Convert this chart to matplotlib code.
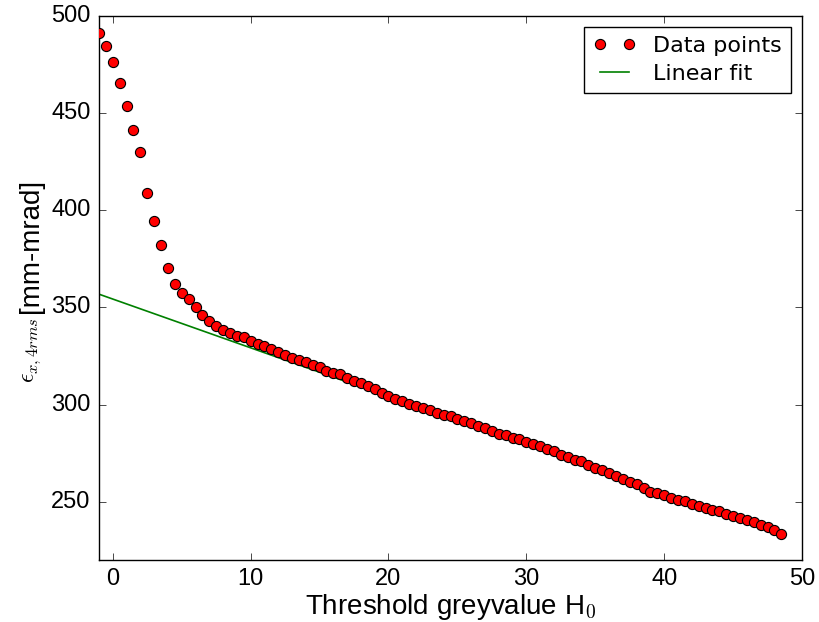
import matplotlib
matplotlib.use('Agg')
import matplotlib.pyplot as plt

threshold = [-1.0, -0.5, 0.0, 0.5, 1.0, 1.5, 2.0, 2.5, 3.0, 3.5,
             4.0, 4.5, 5.0, 5.5, 6.0, 6.5, 7.0, 7.5, 8.0, 8.5,
             9.0, 9.5, 10.0, 10.5, 11.0, 11.5, 12.0, 12.5, 13.0, 13.5,
             14.0, 14.5, 15.0, 15.5, 16.0, 16.5, 17.0, 17.5, 18.0, 18.5,
             19.0, 19.5, 20.0, 20.5, 21.0, 21.5, 22.0, 22.5, 23.0, 23.5,
             24.0, 24.5, 25.0, 25.5, 26.0, 26.5, 27.0, 27.5, 28.0, 28.5,
             29.0, 29.5, 30.0, 30.5, 31.0, 31.5, 32.0, 32.5, 33.0, 33.5,
             34.0, 34.5, 35.0, 35.5, 36.0, 36.5, 37.0, 37.5, 38.0, 38.5,
             39.0, 39.5, 40.0, 40.5, 41.0, 41.5, 42.0, 42.5, 43.0, 43.5,
             44.0, 44.5, 45.0, 45.5, 46.0, 46.5, 47.0, 47.5, 48.0, 48.5]

emittance = [491.4, 484.7, 476.3, 465.4, 453.7, 441.2, 430.0, 409.0, 394.4, 382.0,
             370.5, 362.1, 357.3, 354.3, 350.1, 346.2, 342.8, 340.5, 338.5, 336.8,
             335.4, 334.6, 332.8, 331.1, 329.9, 328.6, 327.2, 325.5, 324.1, 323.0,
             321.9, 320.6, 319.3, 317.5, 316.5, 315.5, 313.8, 312.2, 311.1, 309.3,
             307.8, 306.2, 304.2, 302.8, 301.6, 300.3, 299.4, 298.4, 297.0, 295.7,
             294.6, 293.9, 292.8, 291.7, 290.5, 289.1, 287.9, 286.2, 285.1, 284.1,
             282.9, 282.3, 280.9, 279.7, 278.8, 277.1, 276.1, 274.0, 272.8, 271.6,
             270.7, 269.0, 267.5, 266.5, 264.8, 263.2, 261.8, 259.9, 258.9, 257.2,
             255.1, 254.3, 253.2, 252.1, 251.0, 250.2, 249.0, 248.0, 246.6, 245.8,
             245.0, 243.8, 242.4, 241.4, 240.6, 239.8, 238.0, 236.9, 235.6, 233.2]

fit_intercept = 354.3
fit_slope = -2.51
fit_range = [-1.0, 48.5]

xticks = [0, 10, 20, 30, 40, 50]
yticks = [250, 300, 350, 400, 450, 500]

plt.style.use('classic')
plt.rcParams['font.family'] = ['Liberation Sans', 'DejaVu Sans']
plt.rcParams['mathtext.fontset'] = 'cm'

W, H = 819, 622
fig = plt.figure(figsize=(W / 100, H / 100), dpi=100, facecolor='white')
ax = fig.add_axes([0.1209, 0.0997, 0.8584, 0.8746])
ax.set_facecolor('white')

fit_y = [fit_intercept + fit_slope * x for x in fit_range]
ax.plot(threshold, emittance, 'o', color='red', markeredgecolor='black',
        markeredgewidth=0.8, markersize=7.3, label='Data points', zorder=3)
ax.plot(fit_range, fit_y, '-', color='green', linewidth=1.2, label='Linear fit', zorder=2)

ax.set_xlim(-1, 50)
ax.set_ylim(220, 500)
ax.set_xticks(xticks)
ax.set_yticks(yticks)
ax.tick_params(labelsize=17, direction='in', length=5, top=True, right=True, pad=6)
ax.set_xlabel('Threshold greyvalue H$_0$', fontsize=20, labelpad=1)

# y-axis label: math symbol part slightly smaller than the unit text, as in the reference
fig.text(33.5 / W, 1 - 383 / H, r'$\epsilon_{x,4rms}$', fontsize=17, rotation=90,
         rotation_mode='anchor', ha='left', va='baseline')
fig.text(38 / W, 1 - 313 / H, '[mm-mrad]', fontsize=20, rotation=90,
         rotation_mode='anchor', ha='left', va='baseline')

leg = ax.legend(loc='upper right', numpoints=2, prop={'family': 'DejaVu Sans', 'size': 16},
                handlelength=1.9, borderaxespad=0.5, fancybox=False, shadow=False,
                handletextpad=0.8, borderpad=0.4, labelspacing=0.35)
leg.get_frame().set_edgecolor('black')

fig.savefig('out.png', dpi=100, facecolor='white')
